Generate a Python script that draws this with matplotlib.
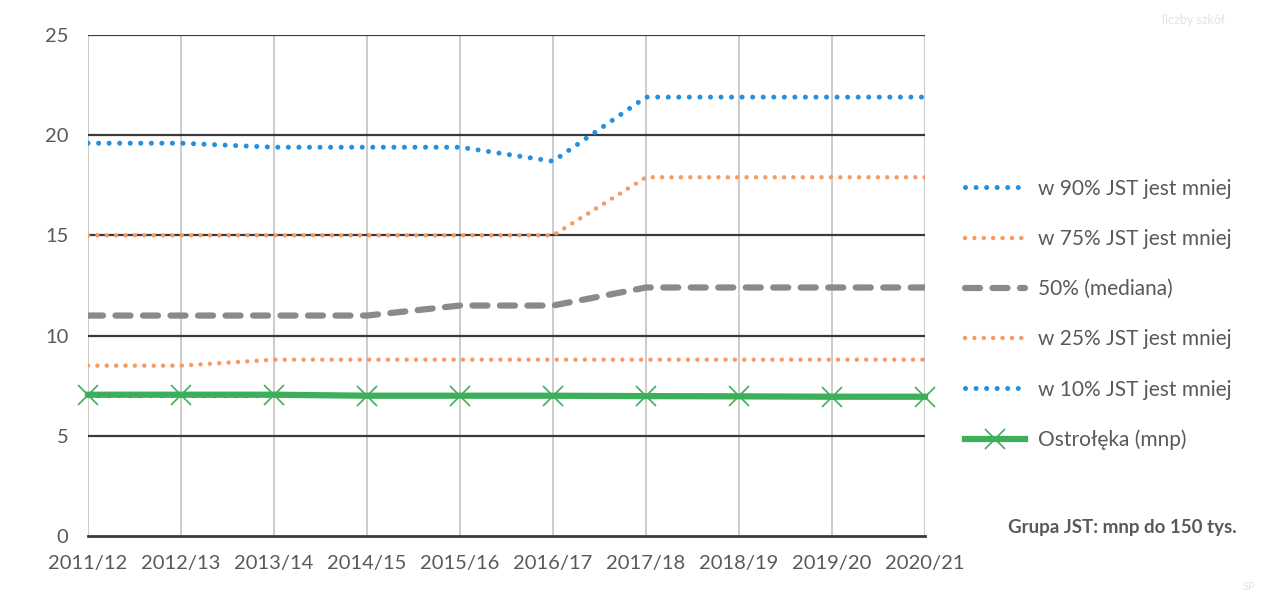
import matplotlib.pyplot as plt
import numpy as np

plt.rcParams['font.family'] = ['Lato', 'DejaVu Sans']

years = ["2011/12", "2012/13", "2013/14", "2014/15", "2015/16",
         "2016/17", "2017/18", "2018/19", "2019/20", "2020/21"]
p90 = [19.6, 19.6, 19.4, 19.4, 19.4, 18.7, 21.9, 21.9, 21.9, 21.9]
p75 = [15.0, 15.0, 15.0, 15.0, 15.0, 15.0, 17.9, 17.9, 17.9, 17.9]
p50 = [11.0, 11.0, 11.0, 11.0, 11.5, 11.5, 12.4, 12.4, 12.4, 12.4]
p25 = [8.5, 8.5, 8.8, 8.8, 8.8, 8.8, 8.8, 8.8, 8.8, 8.8]
p10 = [7.0, 7.0, 7.0, 7.0, 7.0, 7.0, 7.0, 6.95, 6.95, 6.95]
ostroleka = [7.05, 7.05, 7.05, 7.0, 7.0, 7.0, 6.98, 6.97, 6.95, 6.95]

BLUE = "#2490E0"
ORANGE = "#F59A62"
GRAY = "#8A8A8A"
GREEN = "#3DAE5A"
TXT = "#595959"

fig = plt.figure(figsize=(12.73, 5.91), dpi=100)
ax = fig.add_axes([88 / 1273, 1 - 536 / 591, (925 - 88) / 1273, (536 - 35) / 591])

x = np.arange(len(years))
dot = (0, (0.01, 2.1))
ax.plot(x, p90, color=BLUE, lw=3.6, ls=dot, dash_capstyle="round",
        label="w 90% JST jest mniej", zorder=4)
ax.plot(x, p75, color=ORANGE, lw=3.2, ls=dot, dash_capstyle="round",
        label="w 75% JST jest mniej", zorder=4)
ax.plot(x, p50, color=GRAY, lw=4.5, ls=(0, (2.4, 2.0)), dash_capstyle="round",
        label="50% (mediana)", zorder=4)
ax.plot(x, p25, color=ORANGE, lw=3.2, ls=dot, dash_capstyle="round",
        label="w 25% JST jest mniej", zorder=4)
ax.plot(x, p10, color=BLUE, lw=3.6, ls=dot, dash_capstyle="round",
        label="w 10% JST jest mniej", zorder=3)
ax.plot(x, ostroleka, color=GREEN, lw=4.5, marker="x", ms=14, mew=1.2,
        label="Ostrołęka (mnp)", zorder=5, clip_on=False)

ax.set_xlim(0, len(years) - 1)
ax.set_ylim(0, 25)
ax.set_yticks([0, 5, 10, 15, 20, 25])
ax.set_xticks(x)
ax.set_xticklabels(years)

for y in [5, 10, 15, 20, 25]:
    ax.axhline(y, color="#3a3a3a", lw=1.6, zorder=2)
ax.axhline(0, color="#3a3a3a", lw=2.0, zorder=2, clip_on=False)
for xi in x:
    ax.axvline(xi, color="#c4c4c4", lw=1.2, zorder=1)

for s in ax.spines.values():
    s.set_visible(False)
ax.tick_params(length=0, labelsize=14.5, colors=TXT)
ax.tick_params(axis="x", pad=14)
ax.tick_params(axis="y", pad=14)

fig.legend(loc="upper left", bbox_to_anchor=(946 / 1273, 1 - 160 / 591),
           frameon=False, fontsize=15, labelcolor=TXT, handlelength=2.9,
           handletextpad=0.6, labelspacing=1.45)

fig.text(1237 / 1273, 1 - 527 / 591, "Grupa JST: mnp do 150 tys.",
         ha="right", va="center", fontsize=13.5, color=TXT, fontweight="bold")
fig.text(1225 / 1273, 1 - 20 / 591, "liczby szkół", ha="right", va="center",
         fontsize=9, color="#e2e2e2")
fig.text(1255 / 1273, 1 - 586 / 591, "SP", ha="right", va="center",
         fontsize=8, color="#e2e2e2")

fig.savefig("out.png", dpi=100)
